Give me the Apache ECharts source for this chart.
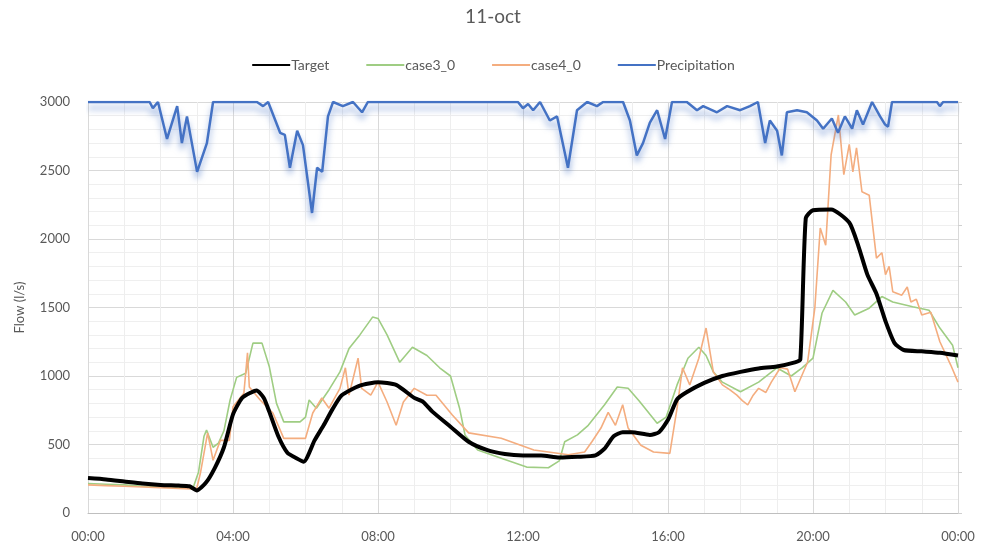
<!DOCTYPE html>
<html>
<head>
<meta charset="utf-8">
<script src="https://cdn.jsdelivr.net/npm/echarts@6/dist/echarts.min.js"></script>
<style>html,body{margin:0;padding:0;background:#fff}#c{width:986px;height:551px}</style>
</head>
<body>
<div id="c"></div>
<script>
const titleText = "11-oct";
const seriesNames = ["Target", "case3_0", "case4_0", "Precipitation"];
const xTickHours = [0, 4, 8, 12, 16, 20, 24];

const targetHours = [0,0.5,1,1.5,2,2.5,2.8,3,3.25,3.5,3.75,4,4.25,4.5,4.65,4.85,5,5.25,5.5,5.75,5.95,6.25,6.5,6.75,7,7.5,8,8.5,9,9.25,9.5,10,10.5,11,11.5,12,12.5,13,13.5,14,14.25,14.5,14.75,15,15.5,15.75,16,16.25,16.5,17,17.5,18,18.5,19,19.5,19.65,19.8,20,20.5,21,21.25,21.5,21.75,22,22.25,22.5,23,23.5,24];
const targetFlow  = [255,245,230,215,205,200,195,165,220,330,480,720,840,880,895,840,740,560,440,400,375,530,640,760,860,930,955,935,840,810,740,630,520,460,430,420,420,405,410,420,470,560,590,590,570,590,680,830,880,950,1000,1030,1055,1070,1100,1120,2150,2210,2215,2120,1950,1740,1600,1400,1240,1190,1180,1170,1150];

const case3Hours = [0,0.5,1,1.5,2,2.5,2.9,3.05,3.2,3.27,3.45,3.6,3.75,3.92,4.1,4.35,4.55,4.8,5,5.2,5.4,5.85,6,6.1,6.3,6.65,6.95,7.2,7.5,7.85,8,8.25,8.6,8.95,9.35,9.7,10,10.25,10.4,10.75,11.4,12.1,12.7,13,13.15,13.5,13.8,14.25,14.6,14.9,15.2,15.5,15.7,15.95,16.25,16.55,16.85,17.05,17.25,17.5,18,18.5,19,19.4,19.7,20,20.25,20.55,20.9,21.15,21.55,21.9,22.2,22.75,23.2,23.5,23.85,24];
const case3Flow  = [215,210,205,195,190,185,185,300,560,605,480,510,600,825,990,1020,1240,1240,1070,800,665,665,700,825,765,900,1030,1200,1300,1430,1420,1300,1100,1210,1150,1060,1000,765,570,460,400,335,330,380,520,570,640,790,920,910,820,720,655,700,935,1130,1210,1150,1030,955,885,955,1060,1000,1060,1130,1460,1625,1540,1445,1495,1580,1540,1505,1480,1350,1225,1060];

const case4Hours = [0,0.5,1,1.5,2,2.5,2.85,3,3.1,3.3,3.45,3.65,3.9,4,4.3,4.4,4.45,4.75,5.1,5.4,6,6.2,6.45,6.65,6.95,7.1,7.2,7.45,7.55,7.8,8,8.25,8.5,8.7,9,9.35,9.6,10.05,10.5,11.4,12.3,13.25,13.7,13.9,14.15,14.35,14.55,14.75,14.9,15.25,15.6,16.05,16.25,16.4,16.6,16.85,17.05,17.25,17.5,17.7,17.9,18.05,18.2,18.35,18.5,18.7,18.85,19.1,19.3,19.5,19.85,20.05,20.2,20.35,20.5,20.7,20.85,21,21.1,21.2,21.35,21.55,21.75,21.9,22,22.1,22.2,22.45,22.6,22.7,22.85,23,23.25,23.5,23.8,24];
const case4Flow  = [205,200,195,190,185,180,175,180,290,585,385,530,530,775,875,1170,920,825,730,545,545,730,840,765,910,1060,860,1130,910,860,955,810,640,810,910,860,860,715,585,545,460,425,445,520,620,735,640,790,620,495,445,435,765,1060,935,1130,1350,1030,935,900,860,820,790,860,910,880,955,1060,1050,885,1100,1495,2080,1955,2615,2905,2470,2690,2490,2665,2345,2320,1860,1900,1740,1800,1615,1590,1650,1540,1560,1445,1465,1250,1080,955];

const precipHours = [0,1.7,1.79,1.93,2.18,2.46,2.59,2.73,3.01,3.28,3.45,4.66,4.83,4.97,5.3,5.43,5.57,5.77,5.93,6.18,6.32,6.46,6.62,6.76,7.03,7.31,7.56,7.72,11.86,12,12.14,12.28,12.47,12.74,12.94,13.24,13.49,13.77,14.04,14.21,14.76,14.95,15.14,15.31,15.5,15.7,15.92,16.11,16.52,16.8,16.97,17.35,17.63,17.99,18.26,18.48,18.68,18.81,19.01,19.14,19.28,19.56,19.83,20.11,20.28,20.52,20.69,20.88,21.08,21.21,21.38,21.63,21.85,21.99,22.07,22.18,23.42,23.5,23.59,24];
const precipDepth = [0,0,0.15,0,0.9,0.1,1.0,0.35,1.7,1.0,0,0,0.1,0,0.75,0.8,1.6,0.7,1.05,2.7,1.6,1.7,0.35,0,0.1,0,0.25,0,0,0.15,0.05,0.2,0,0.45,0.35,1.6,0.2,0,0.1,0,0,0.45,1.3,1.0,0.5,0.2,0.9,0,0,0.2,0.1,0.25,0.1,0.2,0.1,0,1.0,0.45,0.7,1.3,0.25,0.2,0.25,0.45,0.65,0.4,0.75,0.35,0.65,0.2,0.55,0,0.35,0.55,0.6,0,0,0.1,0,0];

function pairs(h, v){ return h.map((x,i)=>[x, v[i]]); }
function hhmm(h){ const hh = Math.round(h) % 24; return (hh<10?'0':'')+hh+':00'; }

const txt = '#595959';
const font = 'Lato, "Liberation Sans", sans-serif';
const chart = echarts.init(document.getElementById('c'));
chart.setOption({
  animation: false,
  backgroundColor: '#fff',
  textStyle: { fontFamily: font },
  title: { text: titleText, left: 'center', top: 2, textStyle: { fontFamily: font, fontSize: 19, fontWeight: 'normal', color: txt } },
  legend: {
    top: 53, left: 'center', itemWidth: 38, itemHeight: 10, itemGap: 36,
    itemStyle: { opacity: 0, borderWidth: 0 },
    textStyle: { fontFamily: font, fontSize: 14, color: txt, padding: [0,0,0,-4] },
    data: seriesNames
  },
  grid: { left: 88, right: 28, top: 102, bottom: 38, containLabel: false },
  xAxis: {
    type: 'value', min: 0, max: 24, interval: 4,
    axisLine: { show: true, lineStyle: { color: '#bfbfbf' } },
    axisTick: { show: false },
    axisLabel: { formatter: v => hhmm(v), color: txt, fontSize: 13, fontFamily: font, margin: 17 },
    splitLine: { show: true, lineStyle: { color: '#d9d9d9', width: 1 } },
    minorTick: { show: false, splitNumber: 4 },
    minorSplitLine: { show: true, lineStyle: { color: '#eeeeee', width: 1 } }
  },
  yAxis: [{
    type: 'value', min: 0, max: 3000, interval: 500,
    name: 'Flow (l/s)', nameLocation: 'middle', nameGap: 62, nameRotate: 90,
    nameTextStyle: { color: txt, fontSize: 13, fontFamily: font },
    axisLine: { show: true, lineStyle: { color: '#d9d9d9' } },
    axisTick: { show: false },
    axisLabel: { formatter: v => String(v), color: txt, fontSize: 13, fontFamily: font, margin: 18 },
    splitLine: { show: true, lineStyle: { color: '#d9d9d9' } },
    minorTick: { show: false, splitNumber: 5 },
    minorSplitLine: { show: true, lineStyle: { color: '#efefef' } }
  }, {
    type: 'value', min: 0, max: 10, interval: 1, inverse: true, position: 'right',
    axisLine: { show: true, lineStyle: { color: '#d9d9d9' } },
    axisTick: { show: true, length: 4, lineStyle: { color: '#d0d0d0' } },
    axisLabel: { show: false },
    splitLine: { show: false }
  }],
  series: [
    { name: 'Target', type: 'line', data: pairs(targetHours, targetFlow), symbol: 'none', z: 5, smooth: 0.2,
      lineStyle: { color: '#000000', width: 4 }, itemStyle: { color: '#000000' } },
    { name: 'case3_0', type: 'line', data: pairs(case3Hours, case3Flow), symbol: 'none', z: 3,
      lineStyle: { color: '#9fcd83', width: 1.6 }, itemStyle: { color: '#9fcd83' } },
    { name: 'case4_0', type: 'line', data: pairs(case4Hours, case4Flow), symbol: 'none', z: 4,
      lineStyle: { color: '#f4ad7f', width: 1.6 }, itemStyle: { color: '#f4ad7f' } },
    { name: 'Precipitation', type: 'line', yAxisIndex: 1, data: pairs(precipHours, precipDepth), symbol: 'none', z: 6,
      lineStyle: { color: '#4472c4', width: 2.5, shadowColor: 'rgba(68,114,196,0.6)', shadowBlur: 6, shadowOffsetY: 6 },
      itemStyle: { color: '#4472c4' } }
  ]
});
</script>
</body>
</html>
